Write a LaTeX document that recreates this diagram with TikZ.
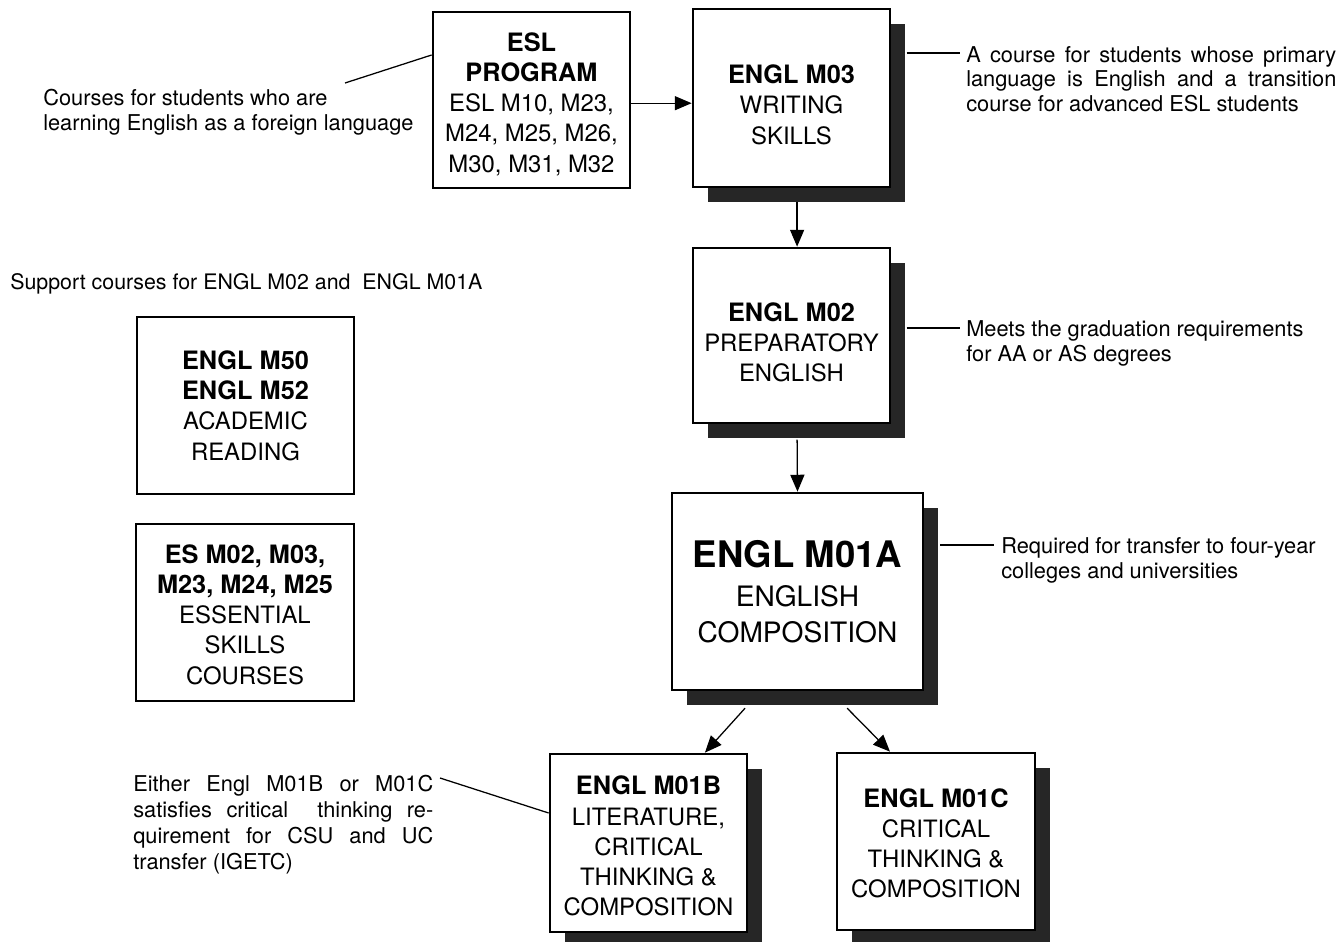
\documentclass[tikz,border=0pt]{standalone}
\usepackage{fontspec}
\setmainfont{TeX Gyre Heros}
\usetikzlibrary{arrows.meta,shadows}

\newcommand{\ctitle}[1]{{\fontsize{18}{21.5}\selectfont\bfseries #1}}
\newcommand{\lowstrut}[1]{\rule{0pt}{#1}}

\tikzset{
  course/.style={draw, line width=1.9pt, fill=white, align=center, inner sep=2pt,
    font=\fontsize{17}{21.5}\selectfont},
  shade3d/.style={drop shadow={shadow xshift=0.38cm, shadow yshift=-0.38cm, fill=black!85, opacity=1}},
  note/.style={inner sep=0pt, anchor=north west, font=\fontsize{15.5}{17.5}\selectfont},
  link/.style={line width=0.9pt},
  arr/.style={line width=0.9pt, -{Triangle[length=12pt,width=10pt]}}
}

\begin{document}
\begin{tikzpicture}[x=0.025cm,y=-0.025cm]
\useasboundingbox[fill=white] (0,0) rectangle (1344,942);

% main sequence
\node[course, minimum width=4.925cm, minimum height=4.4cm] (esl) at (531.5,100)
  {\lowstrut{19pt}\ctitle{ESL}\\\ctitle{PROGRAM}\\ESL M10, M23,\\M24, M25, M26,\\M30, M31, M32};
\node[course, shade3d, minimum width=4.925cm, minimum height=4.45cm] (m03) at (791.5,98)
  {\lowstrut{23pt}\ctitle{ENGL M03}\\WRITING\\SKILLS};
\node[course, shade3d, minimum width=4.925cm, minimum height=4.375cm] (m02) at (791.5,335.5)
  {\lowstrut{23pt}\ctitle{ENGL M02}\\PREPARATORY\\ENGLISH};
\node[course, shade3d, minimum width=6.275cm, minimum height=4.925cm,
  font=\fontsize{20}{25}\selectfont] (m01a) at (797.5,591.5)
  {{\fontsize{26}{30}\selectfont\bfseries ENGL M01A}\\[3pt]ENGLISH\\COMPOSITION};
\node[course, shade3d, minimum width=4.925cm, minimum height=4.45cm] (m01b) at (648.5,843)
  {\lowstrut{18pt}\ctitle{ENGL M01B}\\LITERATURE,\\CRITICAL\\THINKING \&\\COMPOSITION};
\node[course, shade3d, minimum width=4.95cm, minimum height=4.425cm] (m01c) at (936,841.5)
  {\lowstrut{16pt}\ctitle{ENGL M01C}\\CRITICAL\\THINKING \&\\COMPOSITION};

% support courses
\node[note, font=\fontsize{15.2}{17.5}\selectfont] (nsup) at (10,273) {Support courses for ENGL M02 and \ ENGL M01A};
\node[course, minimum width=5.425cm, minimum height=4.425cm] (m50) at (245.5,405.5)
  {\ctitle{ENGL M50}\\\ctitle{ENGL M52}\\ACADEMIC\\READING};
\node[course, minimum width=5.45cm, minimum height=4.425cm] (es) at (245,612.5)
  {\lowstrut{16pt}\ctitle{ES M02, M03,}\\\ctitle{M23, M24, M25}\\ESSENTIAL\\SKILLS\\COURSES};

% notes
\node[note, align=left] (nesl) at (43,89)
  {Courses for students who are\\learning English as a foreign language};
\node[note, text width=9.25cm, align=justify] (n03) at (966,46)
  {A course for students whose primary\linebreak language is English and a transition\linebreak course for advanced ESL students};
\node[note, align=left] (n02) at (966,320.5)
  {Meets the graduation requirements\\for AA or AS degrees};
\node[note, align=left] (n01a) at (1001,537.5)
  {Required for transfer to four-year\\colleges and universities};
\node[note, text width=7.5cm, align=justify, font=\fontsize{15.5}{18.5}\selectfont] (n01b) at (133,775)
  {Either Engl M01B or M01C\linebreak satisfies critical \ thinking re-\linebreak quirement for CSU and UC\linebreak transfer (IGETC)};

% arrows
\draw[arr] ([yshift=-0.08cm]esl.east) -- ([yshift=-0.08cm]esl.east -| m03.west);
\draw[arr] ([xshift=0.14cm,yshift=-0.33cm]m03.south) -- ([xshift=0.14cm]m02.north);
\draw[arr] ([xshift=0.14cm,yshift=-0.38cm]m02.south) -- (m01a.north);
\draw[arr] ([xshift=-1.31cm,yshift=-0.42cm]m01a.south) -- ([xshift=1.41cm]m01b.north);
\draw[arr] ([xshift=1.24cm,yshift=-0.42cm]m01a.south) -- ([xshift=-1.15cm]m01c.north);

% note lines
\coordinate (cesl) at (345,83);
\draw[link] (cesl) -- ([yshift=1.125cm]esl.west);
\draw[link] ([xshift=0.38cm,yshift=1.125cm]m03.east) -- ++(53,0);
\draw[link] ([xshift=0.38cm,yshift=0.19cm]m02.east) -- ++(53,0);
\draw[link] ([xshift=0.4cm,yshift=1.16cm]m01a.east) -- ++(54,0);
\coordinate (cm01b) at (440,778);
\draw[link] (cm01b) -- ([yshift=0.75cm]m01b.west);
\end{tikzpicture}
\end{document}
